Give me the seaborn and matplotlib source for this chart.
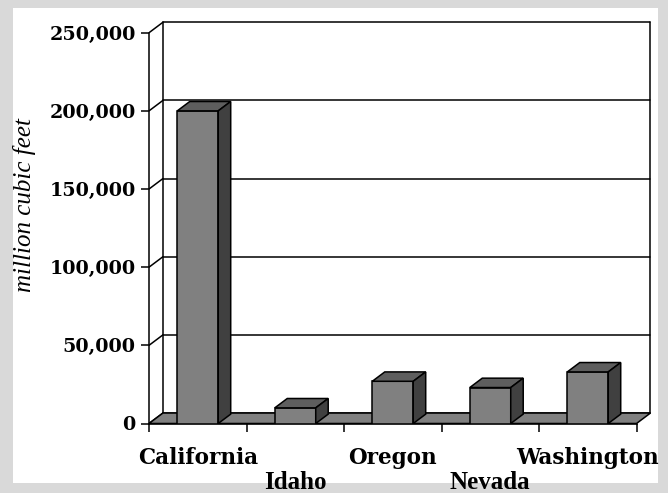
import numpy as np
import matplotlib.pyplot as plt
import seaborn as sns
from matplotlib.patches import Polygon, Rectangle
from matplotlib.ticker import FuncFormatter

states = ["California", "Idaho", "Oregon", "Nevada", "Washington"]
water_use = [200000, 10000, 27000, 23000, 33000]
yticks = [0, 50000, 100000, 150000, 200000, 250000]

sns.set_style("white")
plt.rcParams['font.family'] = ['DejaVu Serif']
for k in ["text.color", "axes.labelcolor", "xtick.color", "ytick.color"]:
    plt.rcParams[k] = "black"

fig = plt.figure(figsize=(6.68, 4.93), dpi=100)
fig.patch.set_facecolor("#d9d9d9")
fig.patches.append(Rectangle((13 / 668, 1 - 483 / 493), 645 / 668, 475 / 493,
                             transform=fig.transFigure, facecolor="white",
                             edgecolor="none", zorder=-10))

ax = fig.add_axes([149 / 668, 69.5 / 493, 503.6 / 668, 402.5 / 493])
ax.set_facecolor("none")

# depth of the fake 3d wall and bars
wdx, wdy = 0.143, 6700
bdx, bdy = 0.128, 6000
lw = 1.1

sns.barplot(x=states, y=water_use, color="#808080", saturation=1, width=0.42,
            edgecolor="black", linewidth=lw, ax=ax, zorder=5)

for p in ax.patches:
    x, w, h = p.get_x(), p.get_width(), p.get_height()
    top = [(x, h), (x + w, h), (x + w + bdx, h + bdy), (x + bdx, h + bdy)]
    side = [(x + w, 0), (x + w + bdx, bdy), (x + w + bdx, h + bdy), (x + w, h)]
    ax.add_patch(Polygon(top, closed=True, facecolor="#5e5e5e", edgecolor="black",
                         linewidth=lw, zorder=5))
    ax.add_patch(Polygon(side, closed=True, facecolor="#404040", edgecolor="black",
                         linewidth=lw, zorder=5))

n = len(states)
x0, x1 = -0.5, n - 0.5

# floor
floor = [(x0, 0), (x1, 0), (x1 + wdx, wdy), (x0 + wdx, wdy)]
ax.add_patch(Polygon(floor, closed=True, facecolor="#808080", edgecolor="black",
                     linewidth=lw, zorder=3, clip_on=False))

# back wall + left wall lines
for v in yticks:
    ax.plot([x0 + wdx, x1 + wdx], [v + wdy, v + wdy], color="black", lw=lw, zorder=1)
    ax.plot([x0, x0 + wdx], [v, v + wdy], color="black", lw=lw, zorder=1)
ax.plot([x0 + wdx, x0 + wdx], [wdy, yticks[-1] + wdy], color="black", lw=lw, zorder=1)
ax.plot([x1 + wdx, x1 + wdx], [wdy, yticks[-1] + wdy], color="black", lw=lw, zorder=1)

ax.set_xlim(x0, x1 + 0.165)
ax.set_ylim(0, 257500)
sns.despine(ax=ax, top=True, right=True)
for s in ["left", "bottom"]:
    ax.spines[s].set_linewidth(lw)
    ax.spines[s].set_color("black")
ax.spines["left"].set_bounds(0, yticks[-1])
ax.spines["bottom"].set_bounds(x0, x1)

ax.set_yticks(yticks)
ax.yaxis.set_major_formatter(FuncFormatter(lambda v, pos: f"{int(v):,}"))
ax.tick_params(axis="y", length=6, width=lw, pad=3.5, labelsize=13.8, left=True)
for lab in ax.get_yticklabels():
    lab.set_fontweight("bold")

ax.set_xticks(np.arange(n + 1) - 0.5, minor=True)
ax.set_xticks(np.arange(n))
ax.set_xticklabels(states)
ax.tick_params(axis="x", which="major", length=0, pad=17)
ax.tick_params(axis="x", which="minor", length=6, width=lw, bottom=True)
for i, (tick, lab) in enumerate(zip(ax.xaxis.get_major_ticks(), ax.get_xticklabels())):
    lab.set_fontweight("bold")
    if i % 2 == 0:
        lab.set_fontsize(15.5)
        lab.set_fontfamily("DejaVu Serif")
    else:
        lab.set_fontsize(18)
        lab.set_fontfamily("Liberation Serif")
        tick.set_pad(34)
ax.set_xlabel("")

ax.set_ylabel("million cubic feet", fontsize=18, fontstyle="italic",
              family="Liberation Serif")
ax.yaxis.set_label_coords(-0.224, 0.543)

fig.savefig("out.png", dpi=100, facecolor=fig.get_facecolor())
